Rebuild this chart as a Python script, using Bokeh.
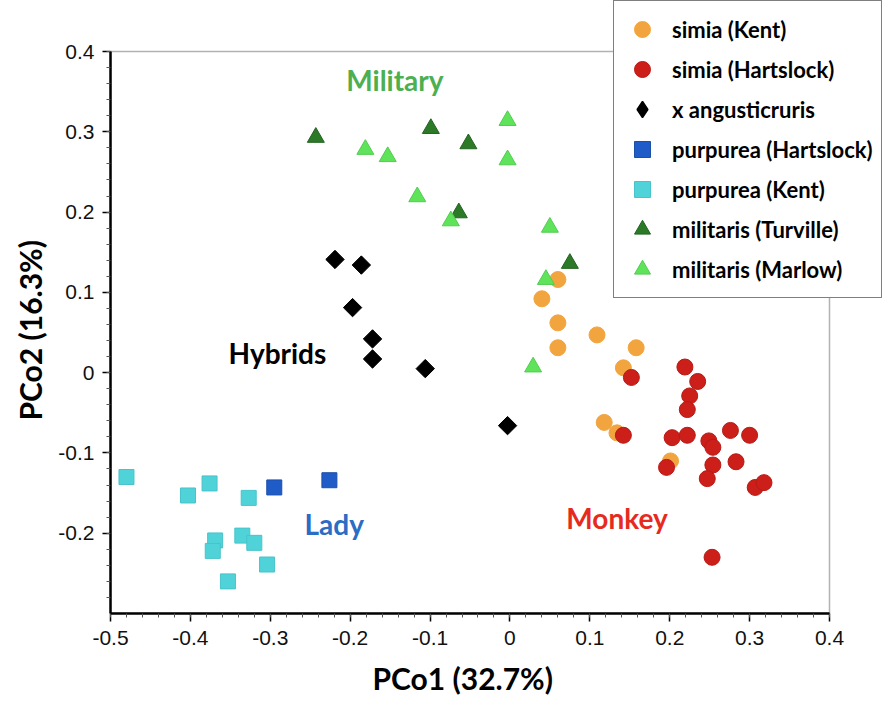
import math
from bokeh.plotting import figure
from bokeh.models import (Legend, LegendItem, SingleIntervalTicker,
                          NumeralTickFormatter, Label, BoxAnnotation, Title)
from bokeh.embed import file_html
from bokeh.resources import INLINE

# ---- data (PCo1, PCo2) ----
simia_kent_x = [0.060, 0.040, 0.060, 0.060, 0.109, 0.158, 0.142, 0.118, 0.134, 0.201]
simia_kent_y = [0.116, 0.092, 0.062, 0.031, 0.047, 0.031, 0.006, -0.062, -0.075, -0.110]

simia_hart_x = [0.152, 0.219, 0.235, 0.225, 0.222, 0.142, 0.203, 0.222, 0.249, 0.254,
                0.276, 0.300, 0.254, 0.283, 0.196, 0.247, 0.307, 0.318, 0.253]
simia_hart_y = [-0.006, 0.007, -0.011, -0.029, -0.046, -0.078, -0.081, -0.078, -0.085, -0.093,
                -0.072, -0.078, -0.115, -0.111, -0.118, -0.132, -0.143, -0.137, -0.230]

hybrid_x = [-0.219, -0.186, -0.197, -0.172, -0.172, -0.106, -0.003]
hybrid_y = [0.141, 0.134, 0.081, 0.042, 0.017, 0.005, -0.066]

purp_hart_x = [-0.295, -0.226]
purp_hart_y = [-0.143, -0.134]

purp_kent_x = [-0.480, -0.403, -0.376, -0.327, -0.369, -0.372, -0.335, -0.320, -0.304, -0.353]
purp_kent_y = [-0.130, -0.153, -0.138, -0.156, -0.209, -0.222, -0.203, -0.212, -0.239, -0.260]

mil_turv_x = [-0.243, -0.099, -0.052, -0.064, 0.075]
mil_turv_y = [0.293, 0.304, 0.285, 0.199, 0.136]

mil_marl_x = [-0.181, -0.153, -0.003, -0.003, -0.116, -0.074, 0.050, 0.045, 0.029]
mil_marl_y = [0.278, 0.269, 0.314, 0.265, 0.219, 0.189, 0.181, 0.116, 0.007]

legend_labels = ["simia (Kent)", "simia (Hartslock)", "x angusticruris",
                 "purpurea (Hartslock)", "purpurea (Kent)",
                 "militaris (Turville)", "militaris (Marlow)"]

annot_text = ["Military", "Hybrids", "Lady", "Monkey"]
annot_x = [-0.144, -0.291, -0.220, 0.134]
annot_y = [0.364, 0.025, -0.188, -0.181]
annot_color = ["#4CAF50", "#000000", "#2B6CC4", "#E62B1E"]

x_title = "PCo1 (32.7%)"
y_title = "PCo2 (16.3%)"

X_MIN, X_MAX = -0.5, 0.4
Y_MIN, Y_MAX = -0.3, 0.4

# ---- layout (pixels) ----
W, H = 896, 702
LEFT, BOTTOM = 110, 89
PLOT_W, PLOT_H = 719, 562          # the data box
FRAME_W = W - LEFT                 # frame extends right and up to make room for the legend
FRAME_H = H - BOTTOM
x_end = X_MAX + (FRAME_W - PLOT_W) / PLOT_W * (X_MAX - X_MIN)
y_end = Y_MAX + (FRAME_H - PLOT_H) / PLOT_H * (Y_MAX - Y_MIN)

FONT = "Lato"

p = figure(frame_width=FRAME_W, frame_height=FRAME_H,
           min_border_left=LEFT, min_border_right=0, min_border_top=0, min_border_bottom=BOTTOM,
           x_range=(X_MIN, x_end), y_range=(Y_MIN, y_end),
           output_backend="svg", toolbar_location=None, tools="")

p.xgrid.visible = False
p.ygrid.visible = False
p.outline_line_color = None
p.background_fill_color = "white"
p.border_fill_color = "white"

for ax, bnds in ((p.xaxis[0], (X_MIN, X_MAX)), (p.yaxis[0], (Y_MIN, Y_MAX))):
    ax.bounds = bnds
    ax.ticker = SingleIntervalTicker(interval=0.1, num_minor_ticks=5)
    ax.formatter = NumeralTickFormatter(format="0.[0]")
    ax.axis_line_color = "black"
    ax.axis_line_width = 2.5
    ax.major_tick_line_color = "black"
    ax.major_tick_line_width = 1.5
    ax.major_tick_out = 8
    ax.major_tick_in = 0
    ax.minor_tick_line_color = "#555555"
    ax.minor_tick_line_width = 1
    ax.minor_tick_out = 4
    ax.minor_tick_in = 0
    ax.major_label_text_font = "Liberation Sans"
    ax.major_label_text_font_size = "21px"
    ax.major_label_text_color = "#111111"

p.xaxis[0].major_label_standoff = 9
p.yaxis[0].major_label_standoff = 8

# axis titles placed as side titles so they can be centred on the data box
p.add_layout(Title(text=x_title, align="left", offset=262, standoff=20,
                   text_font=FONT, text_font_style="bold", text_font_size="30px",
                   text_color="black"), "below")
p.add_layout(Title(text=y_title, align="left", offset=193, standoff=16,
                   text_font=FONT, text_font_style="bold", text_font_size="30px",
                   text_color="black"), "left")

# frame box around the data area
p.add_layout(BoxAnnotation(left=X_MIN, right=X_MAX, bottom=Y_MIN, top=Y_MAX,
                           fill_alpha=0, line_color="black", line_width=1.5))

r_sk = p.scatter(simia_kent_x, simia_kent_y, marker="circle", size=16,
                 fill_color="#F2A53E", line_color="#F2A53E")
r_sh = p.scatter(simia_hart_x, simia_hart_y, marker="circle", size=16,
                 fill_color="#CC1F1A", line_color="#B81A16")
# diamond glyph (used for the legend entry) hidden beneath the rotated squares
r_hy_leg = p.scatter(hybrid_x, hybrid_y, marker="diamond", size=16,
                     fill_color="black", line_color="black", line_width=1.5)
r_hy = p.scatter(hybrid_x, hybrid_y, marker="square", size=13, angle=math.pi / 4,
                 fill_color="black", line_color="black")
r_ph = p.scatter(purp_hart_x, purp_hart_y, marker="square", size=15,
                 fill_color="#1F5CC8", line_color="#1A4FAA")
r_pk = p.scatter(purp_kent_x, purp_kent_y, marker="square", size=15,
                 fill_color="#4FD3D9", line_color="#48C3C9")
r_mt = p.scatter(mil_turv_x, mil_turv_y, marker="triangle", size=17,
                 fill_color="#2C7A28", line_color="#236420")
r_mm = p.scatter(mil_marl_x, mil_marl_y, marker="triangle", size=17,
                 fill_color="#5EE35B", line_color="#52CC50")

for t, x, y, c in zip(annot_text, annot_x, annot_y, annot_color):
    p.add_layout(Label(x=x, y=y, text=t, text_color=c, text_font=FONT,
                       text_font_style="bold", text_font_size="28px",
                       text_align="center", text_baseline="middle"))

rends = [r_sk, r_sh, r_hy_leg, r_ph, r_pk, r_mt, r_mm]
legend = Legend(items=[LegendItem(label=l, renderers=[r]) for l, r in zip(legend_labels, rends)],
                location=(613 - LEFT, FRAME_H - 298))
legend.label_text_font = FONT
legend.label_text_font_style = "bold"
legend.label_text_font_size = "22px"
legend.label_text_color = "black"
legend.label_height = 40
legend.glyph_height = 40
legend.glyph_width = 40
legend.spacing = 0
legend.padding = 8
legend.margin = 0
legend.label_standoff = 10
legend.border_line_color = "black"
legend.border_line_width = 1.5
legend.background_fill_color = "white"
legend.background_fill_alpha = 1.0
p.add_layout(legend, "center")

open("out.html", "w").write(file_html(p, INLINE))
